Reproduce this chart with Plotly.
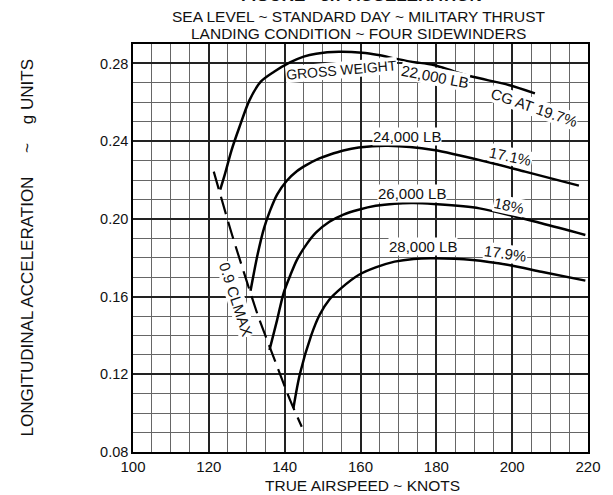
import plotly.graph_objects as go

# ---- data ----
speed_22k = [123.0, 124.3, 126.0, 128.1, 130.7, 133.7, 137.2, 141.4, 145.0, 148.3, 154.3, 160.4, 164.7, 169.0, 173.3, 179.3, 184.5, 189.6, 199.1, 206.0]
accel_22k = [0.215, 0.2234, 0.2354, 0.2474, 0.261, 0.2706, 0.2757, 0.2805, 0.2835, 0.2850, 0.2860, 0.2855, 0.2843, 0.2826, 0.2809, 0.2792, 0.2760, 0.2731, 0.2689, 0.2646]

speed_24k = [131.0, 132.9, 134.6, 136.2, 138.0, 140.5, 143.2, 145.8, 149.0, 151.8, 155.5, 159.5, 167.3, 179.3, 194.8, 203.4, 217.6]
accel_24k = [0.163, 0.182, 0.1955, 0.2045, 0.2125, 0.2195, 0.2245, 0.2278, 0.2310, 0.2330, 0.2352, 0.2367, 0.2376, 0.2354, 0.2286, 0.2243, 0.2171]

speed_26k = [136.0, 138.0, 139.7, 141.5, 143.2, 145.8, 148.3, 151.8, 155.5, 159.5, 164.0, 169.0, 174.0, 179.3, 191.4, 207.7, 219.3]
accel_26k = [0.1325, 0.1479, 0.1617, 0.1710, 0.1788, 0.1870, 0.1930, 0.1985, 0.2022, 0.2047, 0.2067, 0.2078, 0.2081, 0.2076, 0.2054, 0.1977, 0.1917]

speed_28k = [142.3, 144.0, 147.0, 149.2, 151.8, 155.0, 159.5, 164.0, 169.0, 174.0, 179.3, 189.6, 199.1, 207.7, 219.3]
accel_28k = [0.1025, 0.1200, 0.1400, 0.1505, 0.1585, 0.1645, 0.1711, 0.1750, 0.1780, 0.1794, 0.1797, 0.1788, 0.1762, 0.1728, 0.1682]

speed_clmax = [121.3, 126.0, 132.9, 136.7, 141.4, 144.5]
accel_clmax = [0.2243, 0.1926, 0.1505, 0.1308, 0.1068, 0.093]

x_ticks = [100, 120, 140, 160, 180, 200, 220]
y_ticks = [0.08, 0.12, 0.16, 0.20, 0.24, 0.28]
y_tick_labels = ["0.08", "0.12", "0.16", "0.20", "0.24", "0.28"]

FONT = "Liberation Sans, Arial, sans-serif"

fig = go.Figure()
for xs, ys in [(speed_22k, accel_22k), (speed_24k, accel_24k), (speed_26k, accel_26k), (speed_28k, accel_28k)]:
    fig.add_trace(go.Scatter(x=xs, y=ys, mode="lines", line=dict(color="black", width=2.5, shape="spline", smoothing=0.8),
                             showlegend=False, hoverinfo="skip"))
fig.add_trace(go.Scatter(x=speed_clmax, y=accel_clmax, mode="lines",
                         line=dict(color="black", width=2.2, dash="18px,8px", shape="spline", smoothing=0.6),
                         showlegend=False, hoverinfo="skip"))

fig.update_layout(
    width=613, height=495,
    margin=dict(l=132.7, r=16.3, t=44, b=43),
    paper_bgcolor="white", plot_bgcolor="white",
    font=dict(family=FONT, color="#111", size=14.5),
    xaxis=dict(range=[100, 220], tickvals=x_ticks, ticks="", showgrid=True, gridcolor="#222", gridwidth=1.5,
               minor=dict(dtick=5, tick0=100, showgrid=True, gridcolor="#666", gridwidth=1),
               showline=True, linecolor="black", linewidth=1.5, mirror=True, zeroline=False,
               tickfont=dict(size=15)),
    yaxis=dict(range=[0.08, 0.29], tickvals=y_ticks, ticktext=y_tick_labels, ticks="", showgrid=True, gridcolor="#222", gridwidth=1.5,
               minor=dict(dtick=0.01, tick0=0.08, showgrid=True, gridcolor="#666", gridwidth=1),
               showline=True, linecolor="black", linewidth=1.5, mirror=True, zeroline=False,
               tickfont=dict(size=14.5)),
)

def px2paper_x(px):
    return (px - 132.7) / 464.0

def py2paper_y(py):
    return (452.0 - py) / 408.0

def paper_text(text, px, py, size, angle=0):
    return dict(text=text, x=px2paper_x(px), y=py2paper_y(py), xref="paper", yref="paper",
                xanchor="center", yanchor="middle", textangle=angle, showarrow=False,
                font=dict(size=size, family=FONT))

anns = [
    paper_text("<b>FIGURE - 3.7 ACCELERATION</b>", 366, -4, 17),
    paper_text("SEA LEVEL ~ STANDARD DAY ~ MILITARY THRUST", 363, 16, 15.5),
    paper_text("LANDING CONDITION ~ FOUR SIDEWINDERS", 362.5, 33, 15.5),
    paper_text("TRUE AIRSPEED ~ KNOTS", 366.7, 485, 15.5),
    paper_text("LONGITUDINAL ACCELERATION\u00a0\u00a0\u00a0\u00a0 ~ \u00a0\u00a0\u00a0g UNITS", 25, 248, 17, -90),
]

# curve labels (data coords): text, x, y, angle, size
curve_labels = [
    ("GROSS WEIGHT", 155.0, 0.2765, -5, 14),
    ("22,000 LB", 179.56, 0.2735, 11, 15),
    ("CG AT 19.7%", 205.88, 0.2573, 19, 15),
    ("24,000 LB", 172.21, 0.2423, 0, 15),
    ("17.1%", 199.69, 0.2323, 12, 15),
    ("26,000 LB", 173.63, 0.2131, 0, 15),
    ("18%", 199.1, 0.2071, 12, 15),
    ("28,000 LB", 176.46, 0.1857, 0, 15),
    ("17.9%", 198.22, 0.1823, 8, 15),
    ("0.9 CLMAX", 127.25, 0.1587, 72, 15),
]
for txt, xv, yv, ang, sz in curve_labels:
    anns.append(dict(text=txt, x=xv, y=yv, xref="x", yref="y", xanchor="center", yanchor="middle",
                     textangle=ang, showarrow=False,
                     bgcolor="white", borderpad=0, font=dict(size=sz, family=FONT)))

fig.update_layout(annotations=anns)
fig.write_html("out.html")
